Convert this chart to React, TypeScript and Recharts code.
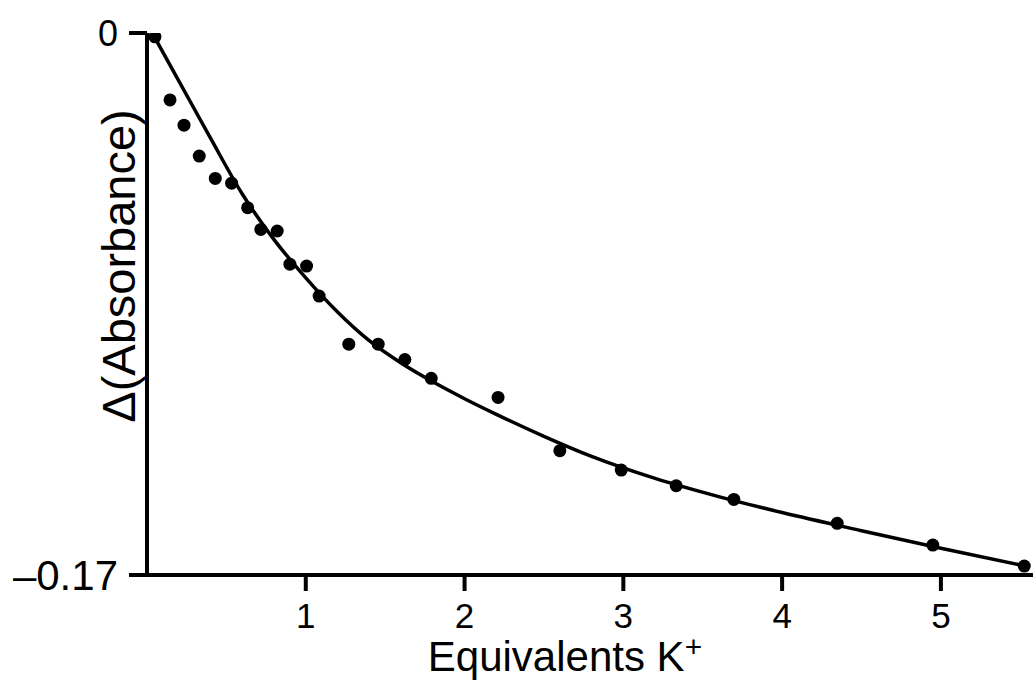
import { ScatterChart, Scatter, XAxis, YAxis, Label } from "recharts";

// measured titration points
const pointX = [0.05, 0.145, 0.233, 0.329, 0.43, 0.533, 0.634, 0.717, 0.82, 0.9, 1.005, 1.084, 1.271, 1.456, 1.624, 1.79, 2.211, 2.6, 2.987, 3.333, 3.696, 4.347, 4.949, 5.525];
const pointY = [-0.0012, -0.021, -0.0289, -0.0386, -0.0456, -0.0471, -0.0548, -0.0616, -0.0621, -0.0725, -0.0731, -0.0825, -0.0976, -0.0976, -0.1024, -0.1083, -0.1143, -0.131, -0.1371, -0.142, -0.1463, -0.1538, -0.1606, -0.1672];

// fitted curve
const fitX = [0.05, 0.2, 0.4, 0.6, 0.8, 1.0, 1.2, 1.4, 1.6, 1.8, 2.0, 2.2, 2.5, 2.8, 3.2, 3.6, 4.0, 4.5, 5.0, 5.53];
const fitY = [-0.0015, -0.015, -0.033, -0.0505, -0.0648, -0.0768, -0.0875, -0.0965, -0.1035, -0.1094, -0.1147, -0.1196, -0.1265, -0.1328, -0.1397, -0.1454, -0.1504, -0.1561, -0.1616, -0.1672];

const xTicks = [1, 2, 3, 4, 5];
const yTicks = [-0.17, 0];
const yTickLabels = ["\u20130.17", "0"];
const yTickSizes = [42, 36];

const points = pointX.map((x, i) => ({ x, y: pointY[i] }));
const fit = fitX.map((x, i) => ({ x, y: fitY[i] }));

const FONT = "'Liberation Sans', Arial, sans-serif";

const Dot = (props: any) => <circle cx={props.cx} cy={props.cy} r={6.5} fill="#000" />;
const NoShape = () => <g />;

// y ticks are not the same size in the original
const YTick = (props: any) => {
  const { x, y, payload } = props;
  const i = yTicks.indexOf(payload.value);
  return (
    <text x={x} y={y} dy="0.355em" textAnchor="end" fill="#000" fontSize={yTickSizes[i]} fontFamily={FONT}>
      {yTickLabels[i]}
    </text>
  );
};

export default function App() {
  return (
    <div style={{ position: "absolute", left: 0, top: 0, background: "#fff" }}>
      <ScatterChart width={1033} height={682} margin={{ top: 33, right: 0, bottom: 0, left: 0 }}>
        <XAxis
          type="number"
          dataKey="x"
          domain={[0, 5.58]}
          ticks={xTicks}
          allowDataOverflow
          height={107}
          tickSize={16}
          tickMargin={12}
          axisLine={{ stroke: "#000", strokeWidth: 4 }}
          tickLine={{ stroke: "#000", strokeWidth: 4 }}
          tick={{ fill: "#000", fontSize: 35, fontFamily: FONT }}
        >
          <Label
            content={() => (
              <text x={565} y={671} textAnchor="middle" fill="#000" fontSize={42} fontFamily={FONT}>
                Equivalents K
                <tspan fontSize={30} dy={-14}>+</tspan>
              </text>
            )}
          />
        </XAxis>
        <YAxis
          type="number"
          dataKey="y"
          domain={[-0.17, 0]}
          ticks={yTicks}
          allowDataOverflow
          width={147}
          tickSize={18}
          tickMargin={11}
          axisLine={{ stroke: "#000", strokeWidth: 4 }}
          tickLine={{ stroke: "#000", strokeWidth: 4 }}
          tick={<YTick />}
        >
          <Label
            content={() => (
              <text
                x={0}
                y={0}
                transform="translate(135,266) rotate(-90)"
                textAnchor="middle"
                fill="#000"
                fontSize={47}
                fontFamily={FONT}
              >
                Δ(Absorbance)
              </text>
            )}
          />
        </YAxis>
        <Scatter
          data={fit}
          shape={NoShape}
          line={{ stroke: "#000", strokeWidth: 3.5 }}
          lineJointType="monotoneX"
          isAnimationActive={false}
        />
        <Scatter data={points} shape={Dot} isAnimationActive={false} />
      </ScatterChart>
    </div>
  );
}
